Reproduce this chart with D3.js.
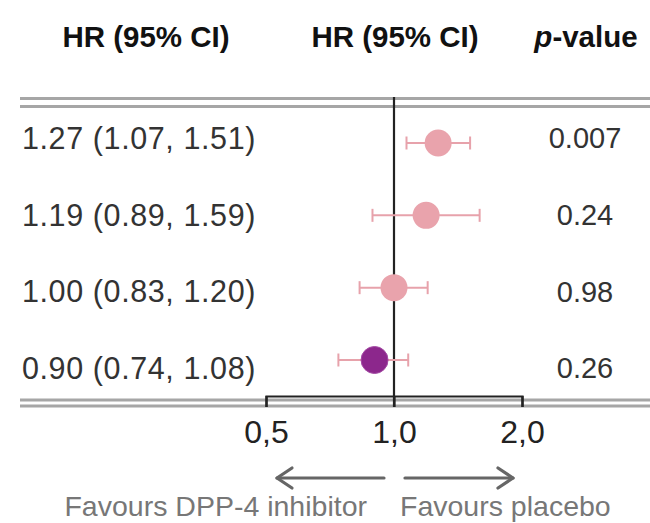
<!DOCTYPE html>
<html>
<head>
<meta charset="utf-8">
<script src="https://cdn.jsdelivr.net/npm/d3@7/dist/d3.min.js"></script>
<style>
  html, body { margin: 0; padding: 0; background: #fff; }
  svg { display: block; font-family: "Liberation Sans", Arial, sans-serif; }
</style>
</head>
<body>
<svg id="chart" width="650" height="523"></svg>
<script>
// ---- data ----
const rowLabels = ["1.27 (1.07, 1.51)", "1.19 (0.89, 1.59)", "1.00 (0.83, 1.20)", "0.90 (0.74, 1.08)"];
const hrValues = [1.27, 1.19, 1.00, 0.90];
const ciLower = [1.07, 0.89, 0.83, 0.74];
const ciUpper = [1.51, 1.59, 1.20, 1.08];
const pValues = ["0.007", "0.24", "0.98", "0.26"];
const tickValues = [0.5, 1, 2];
const tickLabels = ["0,5", "1,0", "2,0"];
const headers = ["HR (95% CI)", "HR (95% CI)"];
const favourLabels = ["Favours DPP-4 inhibitor", "Favours placebo"];

const rows = rowLabels.map((l, i) => ({ i, label: l, hr: hrValues[i], lo: ciLower[i], hi: ciUpper[i], p: pValues[i] }));

const svg = d3.select("#chart");

const x = d3.scaleLog().domain([0.5, 2]).range([266, 522]);
const yDot = d3.scalePoint().domain(d3.range(rows.length)).range([143, 360]);
const yText = d3.scalePoint().domain(d3.range(rows.length)).range([138, 368]);

const pink = "#e9a3ac";
const pinkLine = "#e7a2ab";
const purple = "#8c278c";
const textCol = "#333";

// headers
svg.append("text").attr("x", 146).attr("y", 47).attr("text-anchor", "middle")
  .attr("font-size", 29.5).attr("font-weight", "bold").attr("fill", "#111").text(headers[0]);
svg.append("text").attr("x", 395).attr("y", 47).attr("text-anchor", "middle")
  .attr("font-size", 29.5).attr("font-weight", "bold").attr("fill", "#111").text(headers[1]);
const pt = svg.append("text").attr("x", 586).attr("y", 47).attr("text-anchor", "middle")
  .attr("font-size", 29.5).attr("font-weight", "bold").attr("fill", "#111");
pt.append("tspan").attr("font-style", "italic").text("p");
pt.append("tspan").text("-value");

// double gray rules
const rules = [98.5, 106.5, 400, 406];
svg.selectAll("line.rule").data(rules).join("line").attr("class", "rule")
  .attr("x1", 20).attr("x2", 650).attr("y1", d => d).attr("y2", d => d)
  .attr("stroke", "#a6a6a6").attr("stroke-width", 3);

// axis bracket
const axisY = 396;
const axis = d3.axisBottom(x).tickValues(tickValues)
  .tickFormat((d, i) => tickLabels[i]).tickSize(11).tickSizeOuter(11).tickPadding(13);
const ag = svg.append("g").attr("transform", `translate(0,${axisY})`).call(axis);
ag.select(".domain").attr("stroke", "#222").attr("stroke-width", 2.2);
ag.selectAll(".tick line").attr("stroke", "#222").attr("stroke-width", 2.2);
ag.selectAll(".tick text").attr("font-size", 32).attr("fill", "#222")
  .attr("font-family", "Liberation Sans, Arial, sans-serif");

// reference line at 1
svg.append("line").attr("x1", x(1)).attr("x2", x(1)).attr("y1", 97).attr("y2", 407)
  .attr("stroke", "#222").attr("stroke-width", 2.2);

// CI whiskers
const g = svg.append("g");
g.selectAll("line.ci").data(rows).join("line").attr("class", "ci")
  .attr("x1", d => x(d.lo)).attr("x2", d => x(d.hi))
  .attr("y1", d => yDot(d.i)).attr("y2", d => yDot(d.i))
  .attr("stroke", pinkLine).attr("stroke-width", 2);
["lo", "hi"].forEach(k => {
  g.selectAll("line.cap-" + k).data(rows).join("line").attr("class", "cap-" + k)
    .attr("x1", d => x(d[k])).attr("x2", d => x(d[k]))
    .attr("y1", d => yDot(d.i) - 6.5).attr("y2", d => yDot(d.i) + 6.5)
    .attr("stroke", pinkLine).attr("stroke-width", 2);
});
g.selectAll("circle").data(rows).join("circle")
  .attr("cx", d => x(d.hr)).attr("cy", d => yDot(d.i)).attr("r", 13.5)
  .attr("fill", d => d.i === rows.length - 1 ? purple : pink)
  .attr("stroke", d => d.i === rows.length - 1 ? "#a44aa4" : "none").attr("stroke-width", 1);

// row labels
svg.selectAll("text.lab").data(rows).join("text").attr("class", "lab")
  .attr("x", 139).attr("y", d => yText(d.i)).attr("dy", "0.36em").attr("text-anchor", "middle")
  .attr("font-size", 30.5).attr("letter-spacing", 0.6).attr("fill", textCol).text(d => d.label);

// p-values
svg.selectAll("text.pv").data(rows).join("text").attr("class", "pv")
  .attr("x", 585).attr("y", d => yText(d.i)).attr("dy", "0.36em").attr("text-anchor", "middle")
  .attr("font-size", 29).attr("fill", textCol).text(d => d.p);

// arrows
const arrowY = 478;
const arrowCol = "#666";
function arrow(x1, x2) {
  const dir = Math.sign(x2 - x1);
  const a = svg.append("g").attr("stroke", arrowCol).attr("stroke-width", 3.2).attr("fill", "none")
    .attr("stroke-linecap", "round");
  a.append("line").attr("x1", x1).attr("x2", x2).attr("y1", arrowY).attr("y2", arrowY);
  a.append("path").attr("d", `M${x2 - dir * 15},${arrowY - 10}L${x2},${arrowY}L${x2 - dir * 15},${arrowY + 10}`)
    .attr("stroke-linejoin", "round");
}
arrow(384, 277);
arrow(405, 513);

svg.append("text").attr("x", 367).attr("y", 516).attr("text-anchor", "end")
  .attr("font-size", 28.5).attr("fill", "#777").text(favourLabels[0]);
svg.append("text").attr("x", 400).attr("y", 516).attr("text-anchor", "start")
  .attr("font-size", 28.5).attr("fill", "#777").text(favourLabels[1]);
</script>
</body>
</html>
